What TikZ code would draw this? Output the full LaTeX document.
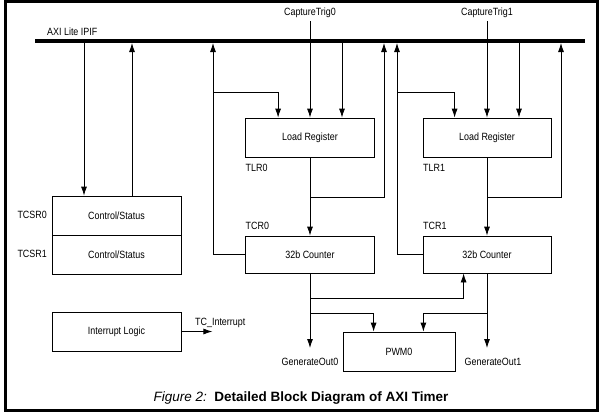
\documentclass[tikz,border=0pt]{standalone}
\usepackage{fontspec}
\setmainfont{Liberation Sans}
\newfontfamily\dgfam[FakeStretch=0.85]{Liberation Sans}
\usetikzlibrary{arrows.meta,calc}
\newcommand{\dgfont}{\dgfam\fontsize{10.5}{12}\selectfont}
\begin{document}
\begin{tikzpicture}[x=1pt,y=-1pt,
  box/.style={draw, line width=0.8pt, inner sep=0pt, font=\dgfont},
  lbl/.style={font=\dgfont, inner sep=0pt},
  wire/.style={line width=0.8pt},
  arr/.style={wire,-{Latex[length=9pt,width=6pt]}},
  bus/.style={line width=4pt}]
\useasboundingbox (0,0) rectangle (600,413);
\draw[line width=3pt] (5,1.5) rectangle (597,410.5);

% bus
\coordinate (busL) at (35,41);
\coordinate (busR) at (585,41);
\draw[bus] (busL) -- (busR);
\node[lbl, anchor=west] (axi) at (47,32) {AXI Lite IPIF};

% taps on bus
\coordinate (a1) at (84,41);
\coordinate (a2) at (132,43);
\coordinate (a3) at (213,43);
\coordinate (a5) at (342,41);
\coordinate (a6) at (384,43);
\coordinate (a7) at (397,43);
\coordinate (a9) at (519,41);
\coordinate (a10) at (561,43);

% boxes
\node[box, minimum width=129pt, minimum height=39pt] (cs0) at (116.5,215.5) {Control/Status};
\node[box, minimum width=129pt, minimum height=39pt] (cs1) at (116.5,254.5) {Control/Status};
\node[box, minimum width=129pt, minimum height=39pt] (intr) at (116.5,331.5) {Interrupt Logic};
\node[box, minimum width=129pt, minimum height=39pt] (lr0) at (310,137.5) {Load Register};
\node[box, minimum width=128pt, minimum height=39pt] (lr1) at (487,137.5) {Load Register};
\node[box, minimum width=129pt, minimum height=37pt] (cnt0) at (310,254.5) {32b Counter};
\node[box, minimum width=128pt, minimum height=37pt] (cnt1) at (487,254.5) {32b Counter};
\node[box, minimum width=112pt, minimum height=39pt] (pwm) at (399,351.5) {PWM0};

% labels
\node[lbl, anchor=east] (tcsr0) at (47,215) {TCSR0};
\node[lbl, anchor=east] (tcsr1) at (47,254) {TCSR1};
\node[lbl, anchor=west] (tlr0) at (245.5,168) {TLR0};
\node[lbl, anchor=west] (tlr1) at (423,168) {TLR1};
\node[lbl, anchor=west] (tcr0) at (245.5,226) {TCR0};
\node[lbl, anchor=west] (tcr1) at (423,226) {TCR1};
\node[lbl, inner sep=3pt] (ct0) at (310,13) {CaptureTrig0};
\node[lbl, inner sep=3pt] (ct1) at (487,13) {CaptureTrig1};

% control/status connections
\draw[arr] (a1) -- (a1 |- cs0.north);
\draw[arr] (a2 |- cs0.north) -- (a2);

% timer 0
\draw[arr] (cnt0.west) -| (a3);
\coordinate (j1) at (213,92);
\draw[arr] (j1) -| ($(lr0.north west)+(33,0)$);
\draw[arr] (ct0.south) -- (lr0.north);
\draw[arr] (a5) -- (a5 |- lr0.north);
\draw[arr] (lr0.south) -- (cnt0.north);
\coordinate (j2) at (310,197);
\draw[arr] (j2) -| (a6);

% timer 1
\draw[arr] (cnt1.west) -| (a7);
\coordinate (j3) at (397,92);
\draw[arr] (j3) -| ($(lr1.north west)+(32,0)$);
\draw[arr] (ct1.south) -- (lr1.north);
\draw[arr] (a9) -- (a9 |- lr1.north);
\draw[arr] (lr1.south) -- (cnt1.north);
\coordinate (j4) at (487,197);
\draw[arr] (j4) -| (a10);

% outputs
\coordinate (g0) at (310,348);
\coordinate (g1) at (487,348);
\draw[arr] (cnt0.south) -- (g0);
\draw[arr] (cnt1.south) -- (g1);
\node[lbl] (go0) at (310,362) {GenerateOut0};
\node[lbl] (go1) at (493,362) {GenerateOut1};
\coordinate (j5) at (310,298);
\coordinate (j6) at (310,313);
\coordinate (j7) at (487,313);
\draw[arr] (j5) -| ($(cnt1.south west)+(41,0)$);
\draw[arr] (j6) -| ($(pwm.north west)+(31,0)$);
\draw[arr] (j7) -| ($(pwm.north east)+(-32,0)$);

% interrupt
\draw[arr] (intr.east) -- ++(31,0) coordinate (tci);
\node[lbl, anchor=west] (tcint) at (195,323) {TC\_Interrupt};

% caption
\node[font=\fontsize{13.5}{16}\selectfont, inner sep=0pt] (cap) at (301,398) {\textit{Figure 2:}\ \ \textbf{Detailed Block Diagram of AXI Timer}};
\end{tikzpicture}
\end{document}
